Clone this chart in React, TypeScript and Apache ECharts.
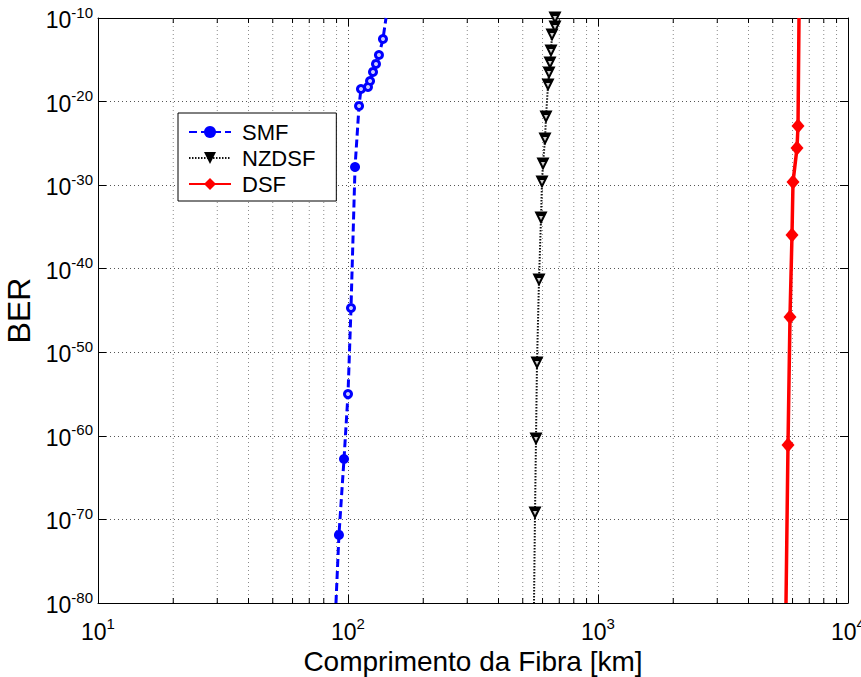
import React, { useEffect, useRef } from "react";
import * as echarts from "echarts";

// SMF (blue, dashed, circles)
const smfLength = [92.0, 96.4, 100, 102.8, 106.7, 110.7, 112.7, 120.2, 122.5, 125.9, 129.4, 133.0, 138.0];
const smfBer = [1.4e-72, 1.7e-63, 1.0e-55, 2.0e-45, 1.5e-28, 3.0e-21, 3.2e-19, 5.5e-19, 2.9e-18, 3.5e-17, 3.2e-16, 3.7e-15, 3.1e-13];
const smfEndLength = [89.5, 141.9];
const smfEndBer = [1e-80, 1e-10];
const smfFilledIdx = [0, 1, 4];

// NZDSF (black, dotted, down triangles)
const nzdsfLength = [673, 673, 654.6, 648.6, 642.7, 636.8, 631, 619.4, 613.8, 602.6, 597, 591.6, 580.8, 570.2, 564.9, 559.8];
const nzdsfBer = [1e-10, 8.3e-12, 9.3e-13, 1.1e-14, 4.2e-16, 2.6e-17, 9.5e-19, 1.4e-22, 3.3e-25, 3.4e-28, 2.3e-30, 1.2e-34, 4.5e-42, 5.2e-52, 4.3e-61, 5.9e-70];
const nzdsfEndLength = [554.6];
const nzdsfEndBer = [1e-80];

// DSF (red, solid, diamonds)
const dsfLength = [6310, 6252, 6026, 5970, 5861, 5754];
const dsfBer = [1.2e-23, 2.8e-26, 2.4e-30, 1.1e-36, 1.7e-46, 7.9e-62];
const dsfEndLength = [6368, 5649];
const dsfEndBer = [1e-10, 1e-80];

// axes
const xMin = 10;
const xMax = 10000;
// y axis is drawn on the decade exponent of BER (log10); ECharts' log scale
// cannot hold values as small as 1e-80
const yMinExp = -80;
const yMaxExp = -10;
const yStepExp = 10;
const xMinorTicks = [20, 30, 40, 50, 60, 70, 80, 90, 200, 300, 400, 500, 600, 700, 800, 900, 2000, 3000, 4000, 5000, 6000, 7000, 8000, 9000];

const FONT = '"Liberation Sans", Arial, Helvetica, sans-serif';

const lg = (v: number) => Math.log10(v);

export default function App() {
  const ref = useRef<HTMLDivElement>(null);
  useEffect(() => {
    if (!ref.current) return;
    const chart = echarts.init(ref.current, null, { renderer: "svg" });

    const smfData = [
      { value: [smfEndLength[0], lg(smfEndBer[0])], symbol: "none" },
      ...smfLength.map((x, i) => ({ value: [x, lg(smfBer[i])] })),
      { value: [smfEndLength[1], lg(smfEndBer[1])], symbol: "none" },
    ];
    const smfHoles = smfLength
      .map((x, i) => ({ x, i }))
      .filter((d) => !smfFilledIdx.includes(d.i))
      .map((d) => [d.x, lg(smfBer[d.i])]);
    const nzdsfData = [
      ...nzdsfLength.map((x, i) => ({ value: [x, lg(nzdsfBer[i])] })),
      { value: [nzdsfEndLength[0], lg(nzdsfEndBer[0])], symbol: "none" },
    ];
    const nzdsfHoles = nzdsfLength.map((x, i) => [x, lg(nzdsfBer[i])]);
    const dsfData = [
      { value: [dsfEndLength[0], lg(dsfEndBer[0])], symbol: "none" },
      ...dsfLength.map((x, i) => ({ value: [x, lg(dsfBer[i])] })),
      { value: [dsfEndLength[1], lg(dsfEndBer[1])], symbol: "none" },
    ];

    const labelRich = {
      b: { fontSize: 23, fontFamily: FONT, color: "#000", verticalAlign: "bottom" },
      s: { fontSize: 15, fontFamily: FONT, color: "#000", verticalAlign: "bottom", padding: [0, 0, 12, 0] },
    };

    const option: any = {
      animation: false,
      backgroundColor: "#fff",
      textStyle: { fontFamily: FONT },
      grid: { left: 98, right: 13, top: 18, bottom: 74, containLabel: false, outerBoundsMode: "none" },
      legend: {
        orient: "vertical",
        left: 178,
        top: 113,
        data: ["SMF", "NZDSF", "DSF"],
        backgroundColor: "#fff",
        borderColor: "#000",
        borderWidth: 1,
        borderRadius: 0,
        padding: [8, 21, 6, 10],
        itemGap: 4,
        itemWidth: 42,
        itemHeight: 15,
        textStyle: { fontSize: 22, fontFamily: FONT, color: "#000", padding: [0, 0, 0, 6] },
      },
      xAxis: [
        {
          type: "log",
          logBase: 10,
          min: xMin,
          max: xMax,
          position: "bottom",
          name: "Comprimento da Fibra [km]",
          nameLocation: "middle",
          nameGap: 41,
          nameTextStyle: { fontSize: 28, fontFamily: FONT, color: "#000" },
          axisLine: { show: true, lineStyle: { color: "#000", width: 1 } },
          axisTick: { show: true, inside: true, length: 8, lineStyle: { color: "#000" } },
          axisLabel: { formatter: (v: number) => `{b|10}{s|${Math.round(Math.log10(v))}}`, rich: labelRich, margin: 13 },
          splitLine: { show: true, lineStyle: { color: "#555", type: [1, 3], width: 1 } },
        },
        {
          type: "log",
          logBase: 10,
          min: xMin,
          max: xMax,
          position: "top",
          axisLine: { show: true, onZero: false, lineStyle: { color: "#000", width: 1 } },
          axisTick: { show: true, inside: true, length: 8, lineStyle: { color: "#000" } },
          axisLabel: { show: false },
          splitLine: { show: false },
        },
      ],
      yAxis: [
        {
          type: "value",
          min: yMinExp,
          max: yMaxExp,
          interval: yStepExp,
          position: "left",
          name: "BER",
          nameLocation: "middle",
          nameRotate: 90,
          nameGap: 59,
          nameTextStyle: { fontSize: 32, fontFamily: FONT, color: "#000" },
          axisLine: { show: true, onZero: false, lineStyle: { color: "#000", width: 1 } },
          axisTick: { show: true, inside: true, length: 8, lineStyle: { color: "#000" } },
          axisLabel: { formatter: (v: number) => `{b|10}{s|${v}}`, rich: labelRich, margin: 5 },
          splitLine: { show: true, lineStyle: { color: "#555", type: [1, 3], width: 1 } },
        },
        {
          type: "value",
          min: yMinExp,
          max: yMaxExp,
          interval: yStepExp,
          position: "right",
          axisLine: { show: true, onZero: false, lineStyle: { color: "#000", width: 1 } },
          axisTick: { show: true, inside: true, length: 8, lineStyle: { color: "#000" } },
          axisLabel: { show: false },
          splitLine: { show: false },
        },
      ],
      series: [
        {
          type: "custom",
          name: "minorGrid",
          xAxisIndex: 0,
          yAxisIndex: 0,
          z: 1,
          silent: true,
          data: xMinorTicks.map((x) => [x, -45]),
          encode: { x: 0, y: 1 },
          renderItem: (params: any, api: any) => {
            const x = api.coord([api.value(0), api.value(1)])[0];
            const cs = params.coordSys;
            const top = cs.y;
            const bottom = cs.y + cs.height;
            return {
              type: "group",
              children: [
                { type: "line", shape: { x1: x, y1: top, x2: x, y2: bottom }, style: { stroke: "#8a8a8a", lineWidth: 1, lineDash: [1, 3] } },
                { type: "line", shape: { x1: x, y1: bottom, x2: x, y2: bottom - 5 }, style: { stroke: "#000", lineWidth: 1 } },
                { type: "line", shape: { x1: x, y1: top, x2: x, y2: top + 5 }, style: { stroke: "#000", lineWidth: 1 } },
              ],
            };
          },
        },
        {
          type: "line",
          name: "SMF",
          z: 4,
          data: smfData,
          symbol: "circle",
          symbolSize: 10,
          showAllSymbol: true,
          lineStyle: { color: "#0000ff", width: 3, type: [8, 4] },
          itemStyle: { color: "#0000ff" },
          clip: true,
        },
        {
          type: "scatter",
          name: "smfHole",
          z: 6,
          silent: true,
          data: smfHoles,
          symbol: "circle",
          symbolSize: 4,
          itemStyle: { color: "#fff" },
        },
        {
          type: "line",
          name: "NZDSF",
          z: 3,
          data: nzdsfData,
          symbol: "triangle",
          symbolRotate: 180,
          symbolSize: 13,
          showAllSymbol: true,
          lineStyle: { color: "#111", width: 2, type: [1.5, 1.5] },
          itemStyle: { color: "#000" },
          clip: true,
        },
        {
          type: "scatter",
          name: "nzdsfHole",
          z: 6,
          silent: true,
          data: nzdsfHoles,
          symbol: "triangle",
          symbolRotate: 180,
          symbolSize: 4,
          itemStyle: { color: "#fff" },
        },
        {
          type: "line",
          name: "DSF",
          z: 5,
          data: dsfData,
          symbol: "diamond",
          symbolSize: [13, 15],
          showAllSymbol: true,
          lineStyle: { color: "#ff0000", width: 3.5, type: "solid" },
          itemStyle: { color: "#ff0000" },
          clip: true,
        },
      ],
    };
    chart.setOption(option);
    return () => chart.dispose();
  }, []);
  return (
    <div
      ref={ref}
      style={{ position: "absolute", left: 0, top: 0, width: 861, height: 677, background: "#fff" }}
    />
  );
}
